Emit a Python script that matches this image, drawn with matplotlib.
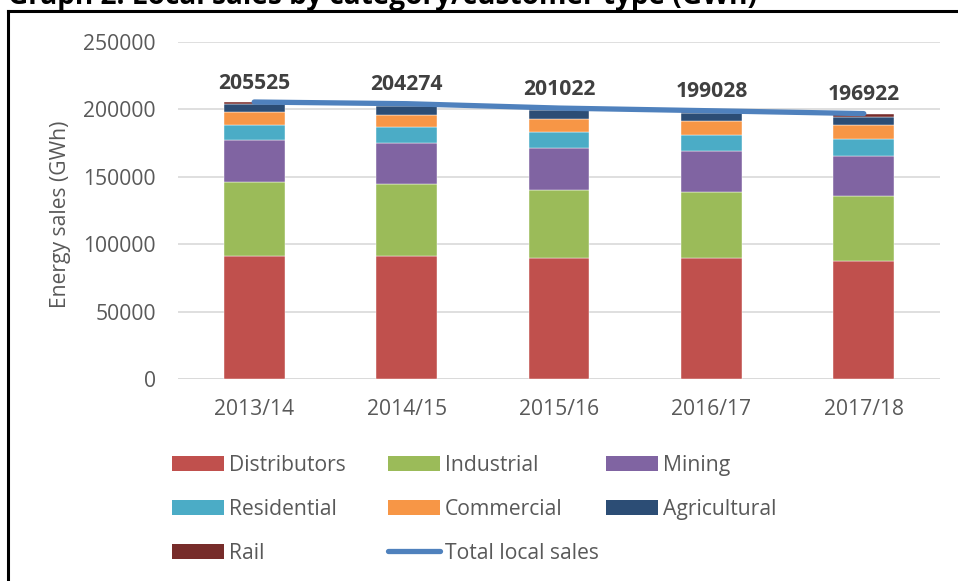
import matplotlib
matplotlib.use("Agg")
import matplotlib.pyplot as plt
from matplotlib.lines import Line2D
from matplotlib.patches import Patch

plt.rcParams["font.family"] = ["Open Sans", "DejaVu Sans"]

years = ["2013/14", "2014/15", "2015/16", "2016/17", "2017/18"]
distributors = [91500, 91500, 90000, 90000, 87600]
industrial = [54900, 53400, 50500, 48500, 47900]
mining = [30600, 30200, 30900, 30700, 30200]
residential = [11500, 11900, 11600, 11800, 12400]
commercial = [9600, 9100, 9900, 10400, 10100]
agricultural = [5700, 6200, 6400, 6000, 6300]
rail = [1700, 2000, 1700, 1600, 2400]
total_local = [205525, 204274, 201022, 199028, 196922]

series = [
    ("Distributors", distributors, "#C0504D"),
    ("Industrial", industrial, "#9BBB59"),
    ("Mining", mining, "#8064A2"),
    ("Residential", residential, "#4BACC6"),
    ("Commercial", commercial, "#F79646"),
    ("Agricultural", agricultural, "#2C4D75"),
    ("Rail", rail, "#772C2A"),
]
line_color = "#4F81BD"
text_grey = "#595959"
fs = 15.2

W, H = 958, 581
fig = plt.figure(figsize=(W / 100, H / 100), dpi=100, facecolor="white")

# plot area, in pixels of the reference
left, right, top, bottom = 178, 940, 42, 379.3
ax = fig.add_axes([left / W, 1 - bottom / H, (right - left) / W, (bottom - top) / H])

xs = list(range(len(years)))
base = [0] * len(years)
handles = {}
for name, vals, col in series:
    ax.bar(xs, vals, width=0.40, bottom=base, color=col, zorder=2,
           edgecolor="white", linewidth=0.3)
    handles[name] = Patch(facecolor=col, edgecolor="none", label=name)
    base = [b + v for b, v in zip(base, vals)]

ax.plot(xs, total_local, color=line_color, linewidth=3.8, solid_capstyle="round", zorder=3)
handles["Total local sales"] = Line2D([0], [0], color=line_color, linewidth=3.8,
                                      solid_capstyle="round", label="Total local sales")

for x, v in zip(xs, total_local):
    ax.annotate(f"{v}", (x, v), xytext=(0, 9.7), textcoords="offset points",
                ha="center", va="baseline", fontsize=fs, fontweight="bold",
                color="#404040", zorder=4)

ax.set_xlim(-0.5, len(years) - 0.5)
ax.set_ylim(0, 250000)
ax.set_yticks(range(0, 250001, 50000))
ax.set_xticks(xs)
ax.set_xticklabels(years)
ax.yaxis.grid(True, color="#d9d9d9", linewidth=1.2, zorder=0)
ax.set_axisbelow(True)
for s in ax.spines.values():
    s.set_visible(False)
ax.axhline(0, color="#d9d9d9", linewidth=1.2, zorder=1)
ax.tick_params(axis="both", length=0, labelsize=fs, colors=text_grey)
ax.tick_params(axis="y", pad=16)
ax.tick_params(axis="x", pad=14)
ax.set_ylabel("Energy sales (GWh)", fontsize=fs, color=text_grey)
ax.yaxis.set_label_coords(-0.14, 0.49)

# legend: three columns placed like the Excel legend
cols = [["Distributors", "Residential", "Rail"],
        ["Industrial", "Commercial", "Total local sales"],
        ["Mining", "Agricultural"]]
col_x = [172, 388, 606]
for names, cx in zip(cols, col_x):
    fig.legend(handles=[handles[n] for n in names], loc="upper left",
               bbox_to_anchor=(cx / W, 1 - 455 / H), frameon=False,
               fontsize=fs, labelcolor=text_grey, handlelength=2.45,
               handleheight=0.72, handletextpad=0.25, labelspacing=1.08,
               borderpad=0, borderaxespad=0)

# chart border (only top and left visible in the crop)
fig.add_artist(Line2D([8 / W, 1], [1 - 11 / H, 1 - 11 / H], color="black",
                      linewidth=2.2, transform=fig.transFigure))
fig.add_artist(Line2D([8 / W, 8 / W], [0, 1 - 11 / H], color="black",
                      linewidth=2.2, transform=fig.transFigure))

# title, cut off at the top of the image as in the source
title = fig.text(8 / W, 1 - 4 / H, "Graph 2: Local sales by category/customer type (GWh)",
                 fontsize=16, fontweight="bold", color="black", va="baseline", ha="left")
fig.canvas.draw()
tw = title.get_window_extent().width
title.set_fontsize(16 * 750 / tw)

fig.savefig("out.png", dpi=100, facecolor="white")
